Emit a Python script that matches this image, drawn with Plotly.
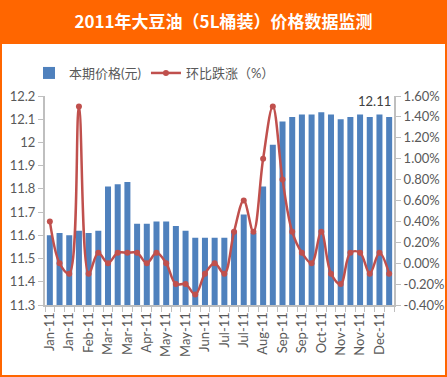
import plotly.graph_objects as go

# ---- data ----
tick_labels = ["Jan-11", "Jan-11", "Feb-11", "Mar-11", "Mar-11", "Apr-11",
               "May-11", "May-11", "Jun-11", "Jul-11", "Jul-11", "Aug-11",
               "Sep-11", "Sep-11", "Oct-11", "Nov-11", "Nov-11", "Dec-11"]
price = [11.60, 11.61, 11.60, 11.62, 11.61, 11.62, 11.81, 11.82, 11.83, 11.65,
         11.65, 11.66, 11.66, 11.64, 11.62, 11.59, 11.59, 11.59, 11.59, 11.62,
         11.69, 11.61, 11.81, 11.99, 12.09, 12.11, 12.12, 12.12, 12.13, 12.12,
         12.10, 12.11, 12.12, 12.11, 12.12, 12.11]
change_pct = [0.40, 0.00, -0.10, 1.50, -0.10, 0.10, 0.00, 0.10, 0.10, 0.10,
              0.00, 0.10, 0.00, -0.20, -0.20, -0.30, -0.10, 0.00, -0.10, 0.30,
              0.60, 0.30, 1.00, 1.50, 0.80, 0.30, 0.10, 0.00, 0.30, -0.10,
              -0.20, 0.10, 0.10, -0.10, 0.10, -0.10]
left_ticks = [11.3, 11.4, 11.5, 11.6, 11.7, 11.8, 11.9, 12.0, 12.1, 12.2]
left_tick_text = ["11.3", "11.4", "11.5", "11.6", "11.7", "11.8", "11.9", "12", "12.1", "12.2"]
right_ticks = [-0.4, -0.2, 0.0, 0.2, 0.4, 0.6, 0.8, 1.0, 1.2, 1.4, 1.6]
right_tick_text = ["-0.40%", "-0.20%", "0.00%", "0.20%", "0.40%", "0.60%",
                   "0.80%", "1.00%", "1.20%", "1.40%", "1.60%"]

title_text = "2011年大豆油（5L桶装）价格数据监测"
name_price = "本期价格(元)"
name_change = "环比跌涨（%）"

idx = list(range(len(price)))
label_pos = idx[::2]

W, H = 447, 377
L, R, T, B = 45, 53, 96, 72
pw, ph = W - L - R, H - T - B

def px_x(x):
    return (x - L) / pw

def px_y(y):
    return (H - B - y) / ph

FONT = "Lato, Noto Sans CJK SC, sans-serif"
GRAY = "#595959"
AXC = "#BFBFBF"

fig = go.Figure()
fig.add_trace(go.Bar(x=idx, y=price, name=name_price, marker_color="#4F81BD",
                     marker_line_width=0, yaxis="y"))
fig.add_trace(go.Scatter(x=idx, y=change_pct, name=name_change, yaxis="y2",
                         mode="lines+markers",
                         line=dict(color="#C0504D", width=2.5, shape="spline", smoothing=1),
                         marker=dict(color="#C0504D", size=6)))

fig.add_annotation(x=idx[-1], y=price[-1], text=f"{price[-1]:.2f}", showarrow=False,
                   xanchor="right", yanchor="bottom", xshift=4, yshift=6,
                   font=dict(family=FONT, size=13, color="#404040"))

fig.add_shape(type="rect", xref="paper", yref="paper",
              x0=px_x(2), x1=px_x(445), y0=px_y(375), y1=px_y(44),
              fillcolor="white", line_width=0, layer="below")

fig.update_layout(
    width=W, height=H,
    margin=dict(l=L, r=R, t=T, b=B, pad=0, autoexpand=False),
    paper_bgcolor="#FF6600", plot_bgcolor="white",
    bargap=0.38,
    showlegend=True,
    title=dict(text=f"<b>{title_text}</b>", x=0.5, xref="container", xanchor="center",
               y=1 - 22 / H, yref="container", yanchor="middle",
               font=dict(family="Noto Sans CJK SC, sans-serif", size=17, color="white")),
    legend=dict(orientation="h", x=px_x(29), y=px_y(73), xanchor="left", yanchor="middle",
                font=dict(family=FONT, size=13, color=GRAY), bgcolor="rgba(0,0,0,0)",
                itemwidth=30, tracegroupgap=0),
    xaxis=dict(range=[-0.5, len(price) - 0.5], tickmode="array", tickvals=label_pos,
               ticktext=tick_labels, tickangle=-90, ticks="", automargin=False,
               tickfont=dict(family=FONT, size=13, color=GRAY),
               showline=True, linecolor=AXC, linewidth=2, showgrid=False, zeroline=False,
               minor=dict(tickmode="array", tickvals=[i - 0.5 for i in idx] + [len(price) - 0.5],
                          ticks="outside", ticklen=5, tickcolor=AXC, tickwidth=1, showgrid=False)),
    yaxis=dict(range=[11.3, 12.2], tickmode="array", tickvals=left_ticks, ticktext=left_tick_text,
               ticks="outside", ticklen=5, tickcolor=AXC, automargin=False,
               tickfont=dict(family=FONT, size=13, color=GRAY),
               showline=True, linecolor=AXC, linewidth=2, showgrid=False, zeroline=False),
    yaxis2=dict(range=[-0.4, 1.6], overlaying="y", side="right", tickmode="array",
                tickvals=right_ticks, ticktext=right_tick_text, automargin=False,
                ticks="outside", ticklen=5, tickcolor=AXC,
                tickfont=dict(family=FONT, size=13, color=GRAY),
                showline=True, linecolor=AXC, linewidth=2, showgrid=False, zeroline=False),
)

# remove the browser's default 8px body margin so the figure sits at the window origin
fig.write_html("out.html", config={"displayModeBar": False},
               post_script="document.body.style.margin='0';")
